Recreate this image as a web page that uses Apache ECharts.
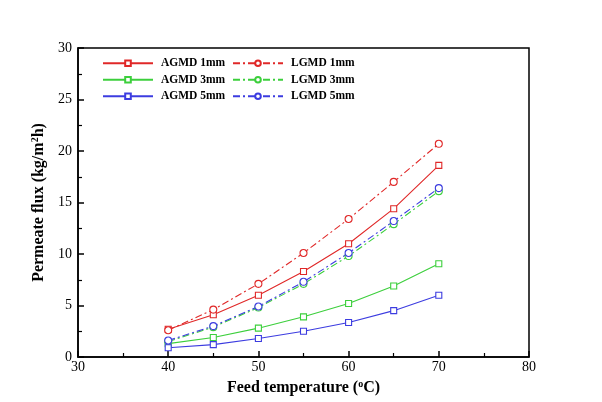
<!DOCTYPE html>
<html>
<head>
<meta charset="utf-8">
<script src="https://cdn.jsdelivr.net/npm/echarts@6/dist/echarts.min.js"></script>
<style>html,body{margin:0;padding:0;background:#fff}#c{width:602px;height:402px}</style>
</head>
<body>
<div id="c"></div>
<script>
var temps = [40, 45, 50, 55, 60, 65, 70];
var agmd1 = [2.7, 4.1, 6.0, 8.3, 11.0, 14.4, 18.6];
var lgmd1 = [2.6, 4.6, 7.1, 10.1, 13.4, 17.0, 20.7];
var agmd3 = [1.3, 1.9, 2.8, 3.9, 5.2, 6.9, 9.05];
var lgmd3 = [1.5, 2.9, 4.8, 7.1, 9.8, 12.9, 16.1];
var agmd5 = [0.9, 1.2, 1.8, 2.5, 3.35, 4.5, 6.0];
var lgmd5 = [1.6, 3.0, 4.9, 7.3, 10.1, 13.2, 16.4];

var xTicks = [30, 40, 50, 60, 70, 80];
var yTicks = [0, 5, 10, 15, 20, 25, 30];

var RED = '#e02828', GREEN = '#3ccf3c', BLUE = '#3c3ce0';
var FONT = '"Liberation Serif","Times New Roman",serif';

function pairs(v) { return temps.map(function (t, i) { return [t, v[i]]; }); }
function mk(name, data, color, sym, dashed) {
  return {
    name: name, type: 'line', data: pairs(data),
    symbol: sym, symbolSize: sym === 'circle' ? 7 : 6,
    showSymbol: true,
    lineStyle: { color: color, width: 1.1, type: dashed ? [7, 3, 2, 3] : 'solid' },
    itemStyle: { color: '#fff', borderColor: color, borderWidth: 1.1 },
    emphasis: { disabled: true },
    animation: false
  };
}
var legendText = { fontFamily: FONT, fontWeight: 'bold', fontSize: 11.5, color: '#000', lineHeight: 16.5, padding: [0, 0, 0, 3] };

var chart = echarts.init(document.getElementById('c'));
chart.setOption({
  backgroundColor: '#fff',
  animation: false,
  grid: { left: 78, right: 73, top: 48, bottom: 45, show: true, borderColor: '#000', borderWidth: 1.5, backgroundColor: 'transparent' },
  legend: [
    { data: ['AGMD 1mm', 'AGMD 3mm', 'AGMD 5mm'], orient: 'vertical', left: 97, top: 50,
      itemWidth: 50, itemHeight: 7, itemGap: 0, padding: 5, textStyle: legendText },
    { data: ['LGMD 1mm', 'LGMD 3mm', 'LGMD 5mm'], orient: 'vertical', left: 227, top: 50,
      itemWidth: 50, itemHeight: 7, itemGap: 0, padding: 5, textStyle: legendText }
  ],
  xAxis: {
    type: 'value', min: xTicks[0], max: xTicks[xTicks.length - 1], interval: 10,
    name: '{b|Feed temperature (}{s|o}{b|C)}', nameLocation: 'middle', nameGap: 22,
    nameTextStyle: { rich: {
      b: { fontFamily: FONT, fontWeight: 'bold', fontSize: 16, color: '#000' },
      s: { fontFamily: FONT, fontWeight: 'bold', fontSize: 10, color: '#000', verticalAlign: 'top', padding: [0, 0, 8, 0] }
    } },
    axisLine: { show: true, lineStyle: { color: '#000', width: 1.5 } },
    axisTick: { show: true, inside: true, length: 6, lineStyle: { color: '#000', width: 1.5 } },
    minorTick: { show: true, splitNumber: 2, length: 4, lineStyle: { color: '#000', width: 1.2 } },
    splitLine: { show: false },
    axisLabel: { fontFamily: FONT, fontSize: 14, color: '#000', margin: 3 }
  },
  yAxis: {
    type: 'value', min: yTicks[0], max: yTicks[yTicks.length - 1], interval: 5,
    name: '{b|Permeate flux (kg/m}{s|2}{b|h)}', nameLocation: 'middle', nameGap: 28, nameRotate: 90,
    nameTextStyle: { rich: {
      b: { fontFamily: FONT, fontWeight: 'bold', fontSize: 16, color: '#000' },
      s: { fontFamily: FONT, fontWeight: 'bold', fontSize: 10, color: '#000', verticalAlign: 'top', padding: [0, 0, 8, 0] }
    } },
    axisLine: { show: true, lineStyle: { color: '#000', width: 1.5 } },
    axisTick: { show: true, inside: true, length: 6, lineStyle: { color: '#000', width: 1.5 } },
    minorTick: { show: true, splitNumber: 2, length: 4, lineStyle: { color: '#000', width: 1.2 } },
    splitLine: { show: false },
    axisLabel: { fontFamily: FONT, fontSize: 14, color: '#000', margin: 6 }
  },
  series: [
    mk('AGMD 1mm', agmd1, RED, 'rect', false),
    mk('LGMD 1mm', lgmd1, RED, 'circle', true),
    mk('AGMD 3mm', agmd3, GREEN, 'rect', false),
    mk('LGMD 3mm', lgmd3, GREEN, 'circle', true),
    mk('AGMD 5mm', agmd5, BLUE, 'rect', false),
    mk('LGMD 5mm', lgmd5, BLUE, 'circle', true)
  ]
});
</script>
</body>
</html>
